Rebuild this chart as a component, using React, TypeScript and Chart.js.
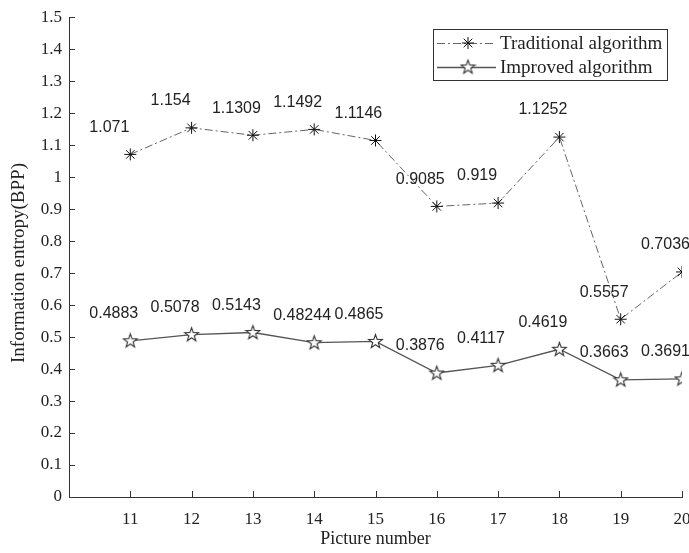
import React, { useEffect, useRef } from "react";
import { Chart, registerables } from "chart.js";

Chart.register(...registerables);

const pictureNumbers = [11, 12, 13, 14, 15, 16, 17, 18, 19, 20];
const traditionalValues = [1.071, 1.154, 1.1309, 1.1492, 1.1146, 0.9085, 0.919, 1.1252, 0.5557, 0.7036];
const improvedValues = [0.4883, 0.5078, 0.5143, 0.4824, 0.4865, 0.3876, 0.4117, 0.4619, 0.3663, 0.3691];
const traditionalLabels = ["1.071", "1.154", "1.1309", "1.1492", "1.1146", "0.9085", "0.919", "1.1252", "0.5557", "0.7036"];
const improvedLabels = ["0.4883", "0.5078", "0.5143", "0.48244", "0.4865", "0.3876", "0.4117", "0.4619", "0.3663", "0.3691"];
const seriesNames = ["Traditional algorithm", "Improved algorithm"];
const xTitle = "Picture number";
const yTitle = "Information entropy(BPP)";

const SERIF = "'Liberation Serif', 'Times New Roman', serif";
const SANS = "'Liberation Sans', Arial, sans-serif";
const DASH = [8, 3, 2, 3];

function makePentagram(): HTMLCanvasElement {
  const c = document.createElement("canvas");
  c.width = 17;
  c.height = 17;
  const ctx = c.getContext("2d")!;
  const cx = 8.5, cy = 8.8, ro = 7.2, ri = 2.9;
  ctx.beginPath();
  for (let i = 0; i < 10; i++) {
    const r = i % 2 === 0 ? ro : ri;
    const a = -Math.PI / 2 + (i * Math.PI) / 5;
    const x = cx + r * Math.cos(a);
    const y = cy + r * Math.sin(a);
    if (i === 0) ctx.moveTo(x, y);
    else ctx.lineTo(x, y);
  }
  ctx.closePath();
  ctx.fillStyle = "#fff";
  ctx.fill();
  ctx.lineWidth = 1.1;
  ctx.strokeStyle = "#333";
  ctx.stroke();
  return c;
}

function drawAsterisk(ctx: CanvasRenderingContext2D, x: number, y: number, r: number) {
  ctx.beginPath();
  ctx.moveTo(x - r, y);
  ctx.lineTo(x + r, y);
  ctx.moveTo(x, y - r);
  ctx.lineTo(x, y + r);
  const d = r * 0.72;
  ctx.moveTo(x - d, y - d);
  ctx.lineTo(x + d, y + d);
  ctx.moveTo(x - d, y + d);
  ctx.lineTo(x + d, y - d);
  ctx.stroke();
}

export default function App() {
  const ref = useRef<HTMLCanvasElement | null>(null);

  useEffect(() => {
    if (!ref.current) return;
    const pent = makePentagram();
    const allLabels = [traditionalLabels, improvedLabels];

    const ticksPlugin = {
      id: "inwardTicks",
      afterDraw(chart: any) {
        const ctx = chart.ctx;
        const xs = chart.scales.x;
        const ys = chart.scales.y;
        const { left, bottom } = chart.chartArea;
        ctx.save();
        ctx.strokeStyle = "#333";
        ctx.lineWidth = 1;
        ctx.beginPath();
        xs.ticks.forEach((t: any) => {
          const px = Math.round(xs.getPixelForValue(t.value)) + 0.5;
          ctx.moveTo(px, bottom);
          ctx.lineTo(px, bottom - 6);
        });
        ys.ticks.forEach((t: any) => {
          const py = Math.round(ys.getPixelForValue(t.value)) + 0.5;
          ctx.moveTo(left, py);
          ctx.lineTo(left + 6, py);
        });
        ctx.stroke();
        // y axis title
        ctx.fillStyle = "#222";
        ctx.font = `19px ${SERIF}`;
        ctx.textAlign = "center";
        ctx.textBaseline = "middle";
        ctx.translate(19, 263);
        ctx.rotate(-Math.PI / 2);
        ctx.fillText(yTitle, 0, 0);
        ctx.restore();
      },
    };

    const labelsPlugin = {
      id: "valueLabels",
      afterDatasetsDraw(chart: any) {
        const ctx = chart.ctx;
        ctx.save();
        ctx.font = `16px ${SANS}`;
        ctx.fillStyle = "#222";
        ctx.textAlign = "left";
        ctx.textBaseline = "middle";
        chart.data.datasets.forEach((_: any, di: number) => {
          const meta = chart.getDatasetMeta(di);
          meta.data.forEach((el: any, i: number) => {
            ctx.fillText(allLabels[di][i], el.x - 41, el.y - 27);
          });
        });
        ctx.restore();
      },
    };

    const legendPlugin = {
      id: "boxLegend",
      afterDraw(chart: any) {
        const ctx = chart.ctx;
        ctx.save();
        const bx = 433.5, by = 29.5, bw = 234, bh = 51;
        ctx.fillStyle = "#fff";
        ctx.fillRect(bx, by, bw, bh);
        ctx.strokeStyle = "#333";
        ctx.lineWidth = 1;
        ctx.strokeRect(bx, by, bw, bh);
        const rows = [43, 67];
        ctx.strokeStyle = "#666";
        ctx.lineWidth = 1;
        ctx.setLineDash(DASH);
        ctx.beginPath();
        ctx.moveTo(437, rows[0] + 0.5);
        ctx.lineTo(496, rows[0] + 0.5);
        ctx.stroke();
        ctx.setLineDash([]);
        ctx.strokeStyle = "#111";
        drawAsterisk(ctx, 468, rows[0], 6);
        ctx.strokeStyle = "#555";
        ctx.lineWidth = 1.3;
        ctx.beginPath();
        ctx.moveTo(437, rows[1] + 0.5);
        ctx.lineTo(496, rows[1] + 0.5);
        ctx.stroke();
        ctx.drawImage(pent, 468 - pent.width / 2, rows[1] - pent.height / 2);
        ctx.fillStyle = "#222";
        ctx.font = `19px ${SERIF}`;
        ctx.textAlign = "left";
        ctx.textBaseline = "middle";
        ctx.fillText(seriesNames[0], 500, rows[0] + 1);
        ctx.fillText(seriesNames[1], 500, rows[1] + 1);
        ctx.restore();
      },
    };

    const chart = new Chart(ref.current, {
      type: "line",
      data: {
        datasets: [
          {
            label: seriesNames[0],
            data: pictureNumbers.map((x, i) => ({ x, y: traditionalValues[i] })),
            borderColor: "#666",
            borderWidth: 1,
            borderDash: DASH,
            pointStyle: "star",
            pointRadius: 6,
            pointBorderColor: "#111",
            pointBorderWidth: 1,
            pointBackgroundColor: "#111",
            fill: false,
            tension: 0,
          },
          {
            label: seriesNames[1],
            data: pictureNumbers.map((x, i) => ({ x, y: improvedValues[i] })),
            borderColor: "#555",
            borderWidth: 1.3,
            pointStyle: pent as any,
            pointRadius: 7,
            fill: false,
            tension: 0,
          },
        ],
      },
      options: {
        animation: false,
        responsive: false,
        maintainAspectRatio: false,
        layout: { padding: { top: 15, right: 38, bottom: 0, left: 0 } },
        plugins: {
          legend: { display: false },
          tooltip: { enabled: false },
        },
        scales: {
          x: {
            type: "linear",
            min: 10,
            max: 20,
            afterFit: (s: any) => {
              s.height = 56;
            },
            grid: { display: false, drawTicks: false },
            border: { display: true, color: "#333", width: 1 },
            ticks: {
              stepSize: 1,
              padding: 12,
              color: "#222",
              font: { family: SERIF, size: 17 },
              maxRotation: 0,
              callback: (v: any) => (v === 10 ? "" : String(v)),
            },
            title: {
              display: true,
              text: xTitle,
              color: "#222",
              font: { family: SERIF, size: 18 },
              padding: { top: 0, bottom: 3 },
            },
          },
          y: {
            type: "linear",
            min: 0,
            max: 1.5,
            afterFit: (s: any) => {
              s.width = 69;
            },
            grid: { display: false, drawTicks: false },
            border: { display: true, color: "#333", width: 1 },
            ticks: {
              stepSize: 0.1,
              padding: 7,
              color: "#222",
              font: { family: SERIF, size: 17 },
              callback: (v: any) => String(Number(Number(v).toFixed(1))),
            },
            title: { display: false },
          },
        },
      },
      plugins: [ticksPlugin, labelsPlugin, legendPlugin],
    });

    return () => chart.destroy();
  }, []);

  return (
    <div
      style={{
        position: "fixed",
        left: 0,
        top: 0,
        width: 689,
        height: 553,
        overflow: "hidden",
        background: "#fff",
      }}
    >
      <canvas ref={ref} width={720} height={553} style={{ width: 720, height: 553, display: "block" }} />
    </div>
  );
}
